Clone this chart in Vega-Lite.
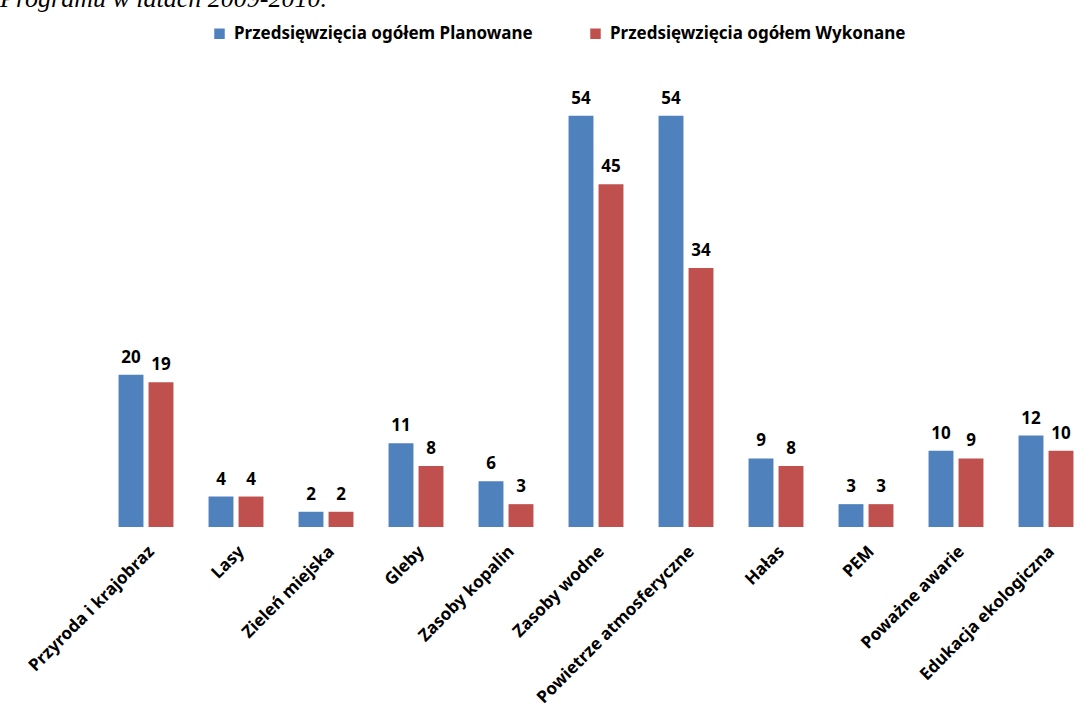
{
  "$schema": "https://vega.github.io/schema/vega-lite/v6.json",
  "autosize": "none",
  "width": 990,
  "height": 457,
  "padding": {"left": 101, "top": 70, "right": 0, "bottom": 190},
  "background": "white",
  "title": {
    "text": "Programu w latach 2009-2010.",
    "font": "Liberation Serif",
    "fontStyle": "italic",
    "fontWeight": "normal",
    "fontSize": 26,
    "color": "#000000",
    "anchor": "start",
    "frame": "group",
    "dx": -101,
    "dy": 27,
    "offset": 19,
    "baseline": "alphabetic"
  },
  "data": {
    "values": [
      {"kategoria": "Przyroda i krajobraz", "seria": "Przedsięwzięcia ogółem Planowane", "wartosc": 20},
      {"kategoria": "Przyroda i krajobraz", "seria": "Przedsięwzięcia ogółem Wykonane", "wartosc": 19},
      {"kategoria": "Lasy", "seria": "Przedsięwzięcia ogółem Planowane", "wartosc": 4},
      {"kategoria": "Lasy", "seria": "Przedsięwzięcia ogółem Wykonane", "wartosc": 4},
      {"kategoria": "Zieleń miejska", "seria": "Przedsięwzięcia ogółem Planowane", "wartosc": 2},
      {"kategoria": "Zieleń miejska", "seria": "Przedsięwzięcia ogółem Wykonane", "wartosc": 2},
      {"kategoria": "Gleby", "seria": "Przedsięwzięcia ogółem Planowane", "wartosc": 11},
      {"kategoria": "Gleby", "seria": "Przedsięwzięcia ogółem Wykonane", "wartosc": 8},
      {"kategoria": "Zasoby kopalin", "seria": "Przedsięwzięcia ogółem Planowane", "wartosc": 6},
      {"kategoria": "Zasoby kopalin", "seria": "Przedsięwzięcia ogółem Wykonane", "wartosc": 3},
      {"kategoria": "Zasoby wodne", "seria": "Przedsięwzięcia ogółem Planowane", "wartosc": 54},
      {"kategoria": "Zasoby wodne", "seria": "Przedsięwzięcia ogółem Wykonane", "wartosc": 45},
      {"kategoria": "Powietrze atmosferyczne", "seria": "Przedsięwzięcia ogółem Planowane", "wartosc": 54},
      {"kategoria": "Powietrze atmosferyczne", "seria": "Przedsięwzięcia ogółem Wykonane", "wartosc": 34},
      {"kategoria": "Hałas", "seria": "Przedsięwzięcia ogółem Planowane", "wartosc": 9},
      {"kategoria": "Hałas", "seria": "Przedsięwzięcia ogółem Wykonane", "wartosc": 8},
      {"kategoria": "PEM", "seria": "Przedsięwzięcia ogółem Planowane", "wartosc": 3},
      {"kategoria": "PEM", "seria": "Przedsięwzięcia ogółem Wykonane", "wartosc": 3},
      {"kategoria": "Poważne awarie", "seria": "Przedsięwzięcia ogółem Planowane", "wartosc": 10},
      {"kategoria": "Poważne awarie", "seria": "Przedsięwzięcia ogółem Wykonane", "wartosc": 9},
      {"kategoria": "Edukacja ekologiczna", "seria": "Przedsięwzięcia ogółem Planowane", "wartosc": 12},
      {"kategoria": "Edukacja ekologiczna", "seria": "Przedsięwzięcia ogółem Wykonane", "wartosc": 10}
    ]
  },
  "encoding": {
    "x": {
      "field": "kategoria",
      "type": "nominal",
      "sort": null,
      "scale": {"paddingInner": 0.39, "paddingOuter": 0.195},
      "axis": {
        "title": null,
        "labelAngle": -45,
        "labelFont": "Noto Sans",
        "labelFontWeight": "bold",
        "labelFontSize": 17,
        "labelColor": "#000000",
        "labelPadding": 16,
        "labelLimit": 0,
        "domain": false,
        "ticks": false,
        "grid": false
      }
    },
    "xOffset": {
      "field": "seria",
      "type": "nominal",
      "scale": {"paddingInner": 0.17}
    },
    "y": {
      "field": "wartosc",
      "type": "quantitative",
      "scale": {"domain": [0, 60], "nice": false},
      "axis": null
    }
  },
  "layer": [
    {
      "mark": {"type": "bar"},
      "encoding": {
        "color": {
          "field": "seria",
          "type": "nominal",
          "scale": {"range": ["#4F81BD", "#C0504D"]},
          "legend": {
            "title": null,
            "orient": "none",
            "direction": "horizontal",
            "legendX": 110,
            "legendY": -45,
            "symbolType": "square",
            "symbolSize": 110,
            "symbolStrokeWidth": 0,
            "labelFont": "Noto Sans",
            "labelFontWeight": "bold",
            "labelFontSize": 17,
            "labelColor": "#000000",
            "labelLimit": 0,
            "columnPadding": 54,
            "labelOffset": 6
          }
        }
      }
    },
    {
      "mark": {
        "type": "text",
        "baseline": "bottom",
        "dy": -8,
        "font": "Noto Sans",
        "fontWeight": "bold",
        "fontSize": 17,
        "color": "#000000"
      },
      "encoding": {
        "text": {"field": "wartosc", "type": "quantitative"}
      }
    }
  ],
  "config": {
    "view": {"stroke": null}
  }
}
